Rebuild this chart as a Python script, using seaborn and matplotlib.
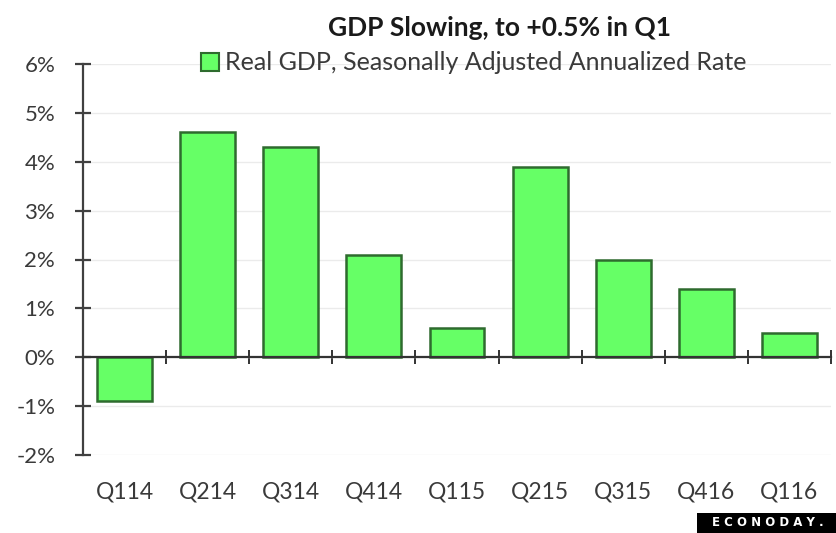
import matplotlib
matplotlib.use("Agg")
import matplotlib.pyplot as plt
import matplotlib.ticker as mticker
from matplotlib.patches import Patch, Rectangle
import seaborn as sns
import pandas as pd

quarters = ["Q114", "Q214", "Q314", "Q414", "Q115", "Q215", "Q315", "Q416", "Q116"]
gdp_rate = [-0.9, 4.6, 4.3, 2.1, 0.6, 3.9, 2.0, 1.4, 0.5]
y_ticks = [-2, -1, 0, 1, 2, 3, 4, 5, 6]
title_text = "GDP Slowing, to +0.5% in Q1"
legend_text = "Real GDP, Seasonally Adjusted Annualized Rate"

sns.set_theme(style="white")
plt.rcParams["font.family"] = ["Lato", "DejaVu Sans"]

df = pd.DataFrame({"quarter": quarters, "rate": gdp_rate})

W, H = 837, 533
fig = plt.figure(figsize=(W / 100, H / 100), dpi=100)
ax = fig.add_axes([83 / W, 1 - 455 / H, (831 - 83) / W, (455 - 64) / H])

bar_color = "#66FF66"
edge_color = "#2E6B2E"
text_color = "#3A3A3A"
sns.barplot(data=df, x="quarter", y="rate", color=bar_color, edgecolor=edge_color,
            linewidth=1.8, width=0.66, saturation=1, ax=ax, zorder=3)

ax.set_xlim(-0.5, len(quarters) - 0.5)
ax.set_ylim(-2, 6)
ax.set_yticks(y_ticks)
ax.yaxis.set_major_formatter(mticker.FuncFormatter(lambda v, p: f"{int(v)}%"))
ax.grid(axis="y", color="#EBEBEB", linewidth=1.0, zorder=0)
ax.set_xlabel("")
ax.set_ylabel("")

for s in ["top", "right"]:
    ax.spines[s].set_visible(False)
ax.spines["left"].set_color("#404040")
ax.spines["left"].set_linewidth(1.6)
ax.spines["bottom"].set_position(("data", 0))
ax.spines["bottom"].set_color("#333333")
ax.spines["bottom"].set_linewidth(1.6)
ax.spines["bottom"].set_zorder(4)

ax.tick_params(axis="y", direction="inout", length=12, width=1.6, color="#404040",
               labelsize=16, labelcolor=text_color, pad=14, left=True)
# category boundary ticks on the zero line
ax.set_xticks([i + 0.5 for i in range(len(quarters))], minor=True)
ax.tick_params(axis="x", which="minor", direction="inout", length=10, width=1.4,
               color="#333333", bottom=True)
ax.tick_params(axis="x", which="major", length=0, labelbottom=False)

sec = ax.secondary_xaxis("bottom")
sec.set_xticks(range(len(quarters)))
sec.set_xticklabels(quarters)
sec.spines["bottom"].set_visible(False)
sec.tick_params(axis="x", length=0, pad=19, labelsize=16.5, labelcolor=text_color)

fig.text(500 / W, 1 - 28 / H, title_text, ha="center", va="center",
         fontsize=19, fontweight="bold", color="#1a1a1a")
handle = Patch(facecolor=bar_color, edgecolor=edge_color, linewidth=1.5)
fig.legend([handle], [legend_text], loc="center", bbox_to_anchor=(474 / W, 1 - 63 / H),
           frameon=False, fontsize=18, handlelength=0.7, handleheight=0.7,
           handletextpad=0.25, labelcolor=text_color, borderpad=0)

fig.patches.append(Rectangle((697 / W, 0), 140 / W, 20 / H, transform=fig.transFigure,
                             facecolor="black", edgecolor="none"))
fig.text(768 / W, 10 / H, "E C O N O D A Y .", ha="center", va="center", fontsize=8.5,
         fontweight="bold", color="white", family="DejaVu Sans")

fig.savefig("out.png", dpi=100, facecolor="white")
